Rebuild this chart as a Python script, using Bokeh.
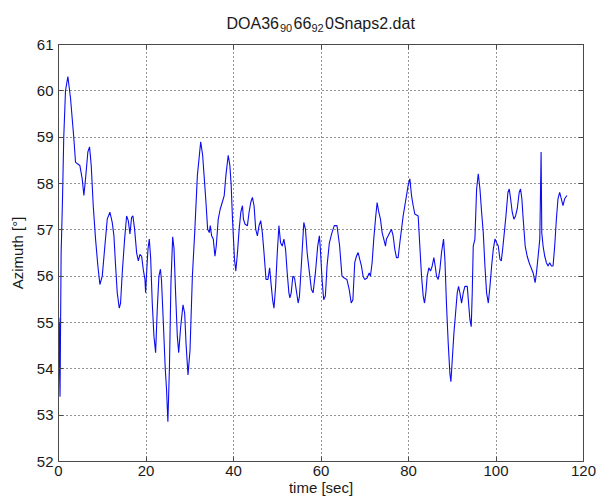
from bokeh.plotting import figure
from bokeh.models import FixedTicker, LinearAxis, Range1d
from bokeh.layouts import column
from bokeh.core.properties import value
from bokeh.embed import file_html
from bokeh.resources import INLINE

title_parts = ["DOA36", "90", "66", "92", "0Snaps2.dat"]
title_is_sub = [False, True, False, True, False]
x_label = "time [sec]"
y_label = "Azimuth [\u00b0]"
x_ticks = [0, 20, 40, 60, 80, 100, 120]
y_ticks = [52, 53, 54, 55, 56, 57, 58, 59, 60, 61]

time_sec = [
    0.05, 0.10, 0.15, 0.20, 0.25, 0.35, 0.6, 0.9, 1.2, 1.6, 2.14, 2.75, 3.51, 3.89, 4.27,
    4.88, 5.42, 5.80, 6.18, 6.71, 7.10, 7.48, 7.94, 8.47, 9.00, 9.46, 10.0, 10.6,
    11.14, 11.75, 12.28, 12.67, 13.05, 13.43, 13.89, 14.19, 14.57, 15.11, 15.57,
    15.95, 16.33, 16.71, 17.01, 17.40, 17.85, 18.24, 18.62, 19.00, 19.38, 19.76,
    19.91, 20.14, 20.45, 20.75, 21.06, 21.44, 21.82, 22.20, 22.58, 22.95, 23.30,
    23.55, 23.96, 24.40, 24.70, 25.00, 25.35, 25.70, 26.10, 26.40, 26.78, 27.16,
    27.47, 27.93, 28.46, 28.84, 29.15, 29.60, 30.06, 30.60, 31.13, 31.74, 32.50,
    32.95, 33.33, 33.71, 34.09, 34.47, 34.69, 35.00, 35.38, 35.76, 36.06, 36.51,
    36.97, 37.42, 37.88, 38.26, 38.79, 39.17, 39.47, 39.77, 40.00, 40.23, 40.53,
    40.91, 41.29, 41.67, 42.05, 42.27, 42.65, 43.18, 43.56, 43.94, 44.32, 44.70,
    45.08, 45.46, 45.84, 46.22, 46.59, 46.97, 47.43, 47.88, 48.26, 48.64, 48.94,
    49.25, 49.63, 50.01, 50.38, 50.76, 51.14, 51.52, 51.90, 52.28, 52.66, 52.89,
    53.19, 53.57, 53.95, 54.33, 54.78, 55.08, 55.54, 56.07, 56.45, 56.83, 57.36,
    57.81, 58.19, 58.72, 59.25, 59.63, 59.86, 60.24, 60.62, 61.00, 61.38, 61.91,
    62.51, 63.04, 63.65, 64.26, 64.79, 65.32, 65.92, 66.45, 66.91, 67.29, 67.71,
    68.10, 68.48, 68.86, 69.24, 69.62, 70.00, 70.54, 71.00, 71.30, 71.68, 72.06,
    72.45, 72.83, 73.21, 73.59, 73.97, 74.35, 74.74, 74.96, 75.35, 75.73, 76.11,
    76.49, 76.87, 77.25, 77.63, 78.02, 78.40, 78.78, 79.16, 79.54, 79.92, 80.31,
    80.69, 81.07, 81.45, 81.83, 82.21, 82.59, 82.98, 83.36, 83.66, 83.97, 84.27,
    84.65, 85.04, 85.42, 85.80, 86.10, 86.41, 86.79, 87.17, 87.55, 88.01, 88.32,
    88.70, 89.08, 89.46, 89.69, 90.00, 90.38, 90.76, 91.14, 91.44, 91.75, 92.13,
    92.51, 92.89, 93.43, 93.73, 94.04, 94.34, 94.57, 94.80, 95.18, 95.57, 95.95,
    96.33, 96.71, 97.09, 97.47, 97.85, 98.24, 98.62, 99.00, 99.38, 99.76, 100.14,
    100.52, 100.91, 101.21, 101.52, 101.90, 102.27, 102.73, 103.03, 103.34, 103.71,
    104.09, 104.47, 104.85, 105.31, 105.61, 105.91, 106.22, 106.67, 107.13, 107.58,
    108.03, 108.49, 108.94, 109.25, 109.63, 110.01, 110.31, 110.46, 110.76, 111.14,
    111.52, 111.90, 112.28, 112.66, 113.04, 113.42, 113.80, 114.17, 114.55, 114.93,
    115.31, 115.69, 116.22,
]

azimuth_deg = [
    54.9, 55.1, 54.0, 55.0, 53.9, 53.4, 56.5, 57.6, 59.0, 60.0, 60.31, 59.84, 58.97, 58.46, 58.43,
    58.39, 58.10, 57.74, 58.10, 58.68, 58.79, 58.39, 57.52, 56.80, 56.22, 55.82, 56.00, 56.65,
    57.23, 57.38, 57.16, 56.87, 56.22, 55.64, 55.31, 55.42, 56.07, 56.80, 57.30,
    57.20, 56.91, 57.27, 57.30, 57.01, 56.51, 56.33, 56.47, 56.43, 56.14, 55.93,
    55.64, 56.07, 56.58, 56.80, 56.40, 55.40, 54.70, 54.35, 55.30, 56.00, 56.15,
    55.90, 55.00, 54.00, 53.55, 52.86, 54.00, 55.85, 56.85, 56.60, 55.60, 54.70,
    54.35, 54.91, 55.38, 55.20, 54.55, 53.87, 54.40, 56.00, 56.94, 58.17, 58.90,
    58.61, 58.10, 57.59, 57.01, 56.94, 57.09, 56.87, 56.80, 56.43, 56.65, 57.23,
    57.45, 57.59, 57.74, 58.17, 58.61, 58.39, 57.96, 57.23, 56.80, 56.36, 56.11,
    56.51, 57.01, 57.38, 57.52, 57.23, 57.12, 57.09, 57.38, 57.59, 57.70, 57.52,
    57.01, 56.87, 57.09, 57.20, 56.94, 56.51, 55.93, 55.93, 56.18, 55.78, 55.49,
    55.31, 55.78, 56.51, 57.09, 56.72, 56.65, 56.80, 56.58, 56.07, 55.64, 55.53,
    55.64, 56.00, 55.96, 55.71, 55.42, 55.57, 56.29, 57.16, 57.01, 56.51, 56.07,
    55.71, 55.64, 56.07, 56.65, 56.87, 56.58, 55.93, 55.49, 55.57, 56.22, 56.72,
    56.94, 57.09, 57.09, 56.65, 56.00, 55.96, 55.93, 55.71, 55.42, 55.49, 56.29,
    56.43, 56.51, 56.36, 56.22, 56.00, 55.93, 55.96, 56.07, 56.00, 56.29, 56.80,
    57.23, 57.59, 57.38, 57.23, 56.94, 56.80, 56.65, 56.80, 56.87, 56.94, 57.01,
    56.87, 56.58, 56.40, 56.40, 56.72, 57.01, 57.30, 57.52, 57.74, 57.96, 58.10,
    57.74, 57.52, 57.34, 57.32, 57.30, 56.65, 56.00, 55.57, 55.42, 55.64, 56.00,
    56.18, 56.11, 56.22, 56.40, 56.22, 56.00, 55.93, 56.14, 56.51, 56.80, 56.36,
    55.35, 54.55, 53.90, 53.72, 54.19, 54.77, 55.20, 55.64, 55.78, 55.64, 55.42,
    55.64, 55.78, 55.78, 55.42, 55.06, 54.91, 55.64, 56.65, 56.80, 57.88, 58.21,
    57.88, 57.38, 56.94, 56.22, 55.64, 55.42, 55.78, 56.22, 56.58, 56.80, 56.72,
    56.65, 56.36, 56.33, 56.58, 56.94, 57.30, 57.81, 57.88, 57.67, 57.38,
    57.23, 57.30, 57.45, 57.81, 57.88, 57.67, 57.23, 56.65, 56.43, 56.29,
    56.18, 56.07, 55.86, 56.07, 56.43, 56.80, 58.68, 56.94, 56.65, 56.43,
    56.29, 56.22, 56.29, 56.22, 56.22, 56.65, 57.23, 57.67, 57.81, 57.67,
    57.52, 57.67, 57.74,
]

FONT = "Liberation Sans"
TEXT = "#1a1a1a"
W = 598
TITLE_H = 34
LEFT, FRAME_W, RIGHT = 58, 525, 15

# ---- title strip: same horizontal frame as the plot, data space = page pixels ----
t = figure(
    width=W, height=TITLE_H, frame_width=FRAME_W, frame_height=TITLE_H,
    x_range=Range1d(LEFT, LEFT + FRAME_W), y_range=Range1d(0, TITLE_H),
    x_axis_type=None, y_axis_type=None,
    output_backend="svg", toolbar_location=None,
    min_border_left=LEFT, min_border_right=RIGHT, min_border_top=0, min_border_bottom=0,
    outline_line_color=None, background_fill_color="white", border_fill_color="white",
)
t.grid.visible = False
title_px = [226, 279.5, 293, 311, 324.5]
for txt, sub, tx in zip(title_parts, title_is_sub, title_px):
    t.text(
        x=[tx], y=[TITLE_H - (27.5 if sub else 22.5)], text=[txt],
        text_font=value(FONT), text_font_size="11px" if sub else "16px",
        text_color=TEXT, text_baseline="alphabetic", text_align="left",
    )

# ---- main plot ----
p = figure(
    width=W, height=501 - TITLE_H,
    frame_width=FRAME_W, frame_height=417,
    x_range=Range1d(0, 120), y_range=Range1d(52, 61),
    output_backend="svg", toolbar_location=None,
    min_border_left=LEFT, min_border_right=RIGHT, min_border_top=44 - TITLE_H, min_border_bottom=40,
    background_fill_color="white", border_fill_color="white",
)

p.line(time_sec, azimuth_deg, line_color="#0c0cf0", line_width=1.1)

def style_axis(ax, ticks, show_labels):
    ax.ticker = FixedTicker(ticks=ticks)
    ax.major_tick_in = 5
    ax.major_tick_out = 0
    ax.minor_tick_in = 0
    ax.minor_tick_out = 0
    ax.axis_line_color = "#4a4a4a"
    ax.major_tick_line_color = "#4a4a4a"
    ax.major_label_text_font = FONT
    ax.major_label_text_font_size = "15px"
    ax.major_label_text_color = TEXT
    ax.axis_label_text_font = FONT
    ax.axis_label_text_font_size = "15px"
    ax.axis_label_text_font_style = "normal"
    ax.axis_label_text_color = TEXT
    if not show_labels:
        ax.major_label_overrides = {t: "" for t in ticks}
        ax.major_label_text_font_size = "1px"
        ax.major_label_standoff = 0

style_axis(p.xaxis[0], x_ticks, True)
style_axis(p.yaxis[0], y_ticks, True)
p.xaxis[0].axis_label = x_label
p.yaxis[0].axis_label = y_label
p.xaxis[0].major_label_standoff = 4
p.yaxis[0].major_label_standoff = 5
p.xaxis[0].axis_label_standoff = 0
p.yaxis[0].axis_label_standoff = 8

top = LinearAxis()
style_axis(top, x_ticks, False)
p.add_layout(top, "above")
right = LinearAxis()
style_axis(right, y_ticks, False)
p.add_layout(right, "right")

for g in (p.xgrid[0], p.ygrid[0]):
    g.grid_line_color = "#2a2a2a"
    g.grid_line_dash = "1 3"
    g.grid_line_width = 1
p.xgrid[0].ticker = FixedTicker(ticks=x_ticks)
p.ygrid[0].ticker = FixedTicker(ticks=y_ticks)

p.outline_line_color = "#4a4a4a"

layout = column(t, p, spacing=0)
open("out.html", "w").write(file_html(layout, INLINE))
